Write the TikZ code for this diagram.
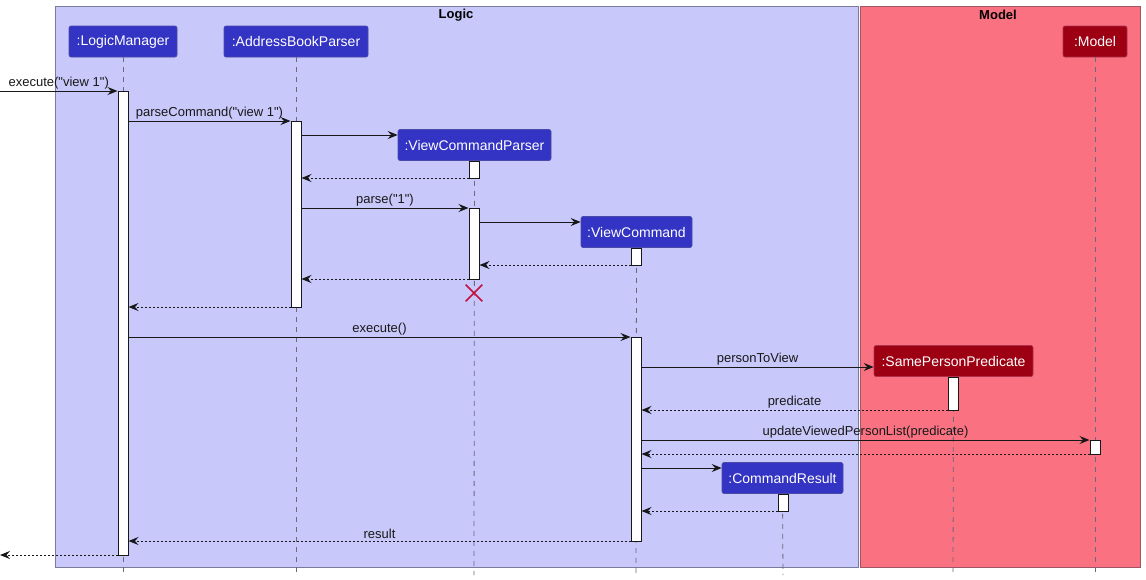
\documentclass[tikz,border=0pt]{standalone}
\usepackage{fontspec}
\setmainfont{Liberation Sans}[Ligatures=TeXOff]
\usetikzlibrary{arrows.meta,shapes.misc}
\definecolor{logicbg}{HTML}{C8C8FA}
\definecolor{logicbd}{HTML}{7A7A9A}
\definecolor{modelbg}{HTML}{FA7282}
\definecolor{modelbd}{HTML}{A05565}
\definecolor{partblue}{HTML}{3333C4}
\definecolor{partbluebd}{HTML}{4A4AA8}
\definecolor{partred}{HTML}{9D0012}
\definecolor{partredbd}{HTML}{B0304A}
\definecolor{lifegray}{HTML}{6A6A7A}
\definecolor{xred}{HTML}{C2123F}
\definecolor{ink}{HTML}{181818}
\tikzset{
  pblue/.style={draw=partbluebd, fill=partblue, text=white, rounded corners=2pt, inner sep=0pt, minimum height=31pt, font=\fontsize{14}{16}\selectfont, line width=0.6pt},
  pred/.style={pblue, draw=partredbd, fill=partred},
  act/.style={draw=ink, fill=white, line width=1pt, minimum width=10pt, inner sep=0pt},
  life/.style={draw=lifegray, line width=0.8pt, dash pattern=on 5pt off 5pt},
  msg/.style={draw=ink, line width=1pt, -{Stealth[length=10pt,width=8pt,inset=3.5pt]}},
  ret/.style={msg, dash pattern=on 2pt off 2pt},
  lbl/.style={font=\fontsize{13}{15}\selectfont, text=ink, inner sep=1.5pt, above},
  frametitle/.style={font=\bfseries\fontsize{13}{15}\selectfont, text=black, inner sep=0pt},
}
\begin{document}
\begin{tikzpicture}[x=1pt,y=-1pt]
\useasboundingbox (0,0) rectangle (1146,579);
% frames
\draw[fill=logicbg, draw=logicbd, line width=1pt] (55,6) rectangle (858,567);
\draw[fill=modelbg, draw=modelbd, line width=1pt] (860,6) rectangle (1140,567);
\node[frametitle] (tlogic) at (456,15) {Logic};
\node[frametitle] (tmodel) at (998,15) {Model};
% participants
\node[pblue, minimum width=108pt] (lm) at (123,41.5) {:LogicManager};
\node[pblue, minimum width=144pt] (abp) at (296,41.5) {:AddressBookParser};
\node[pblue, minimum width=153pt] (vcp) at (474.5,145) {:ViewCommandParser};
\node[pblue, minimum width=111pt] (vc) at (636.5,232) {:ViewCommand};
\node[pred, minimum width=159pt] (spp) at (953.5,361) {:SamePersonPredicate};
\node[pblue, minimum width=121pt] (cr) at (782.5,478) {:CommandResult};
\node[pred, minimum width=64pt] (mdl) at (1095,41.5) {:Model};
% lifeline ends
\coordinate (lmE) at (123,575);
\coordinate (abpE) at (296,575);
\coordinate (vcpE) at (474,575);
\coordinate (vcE) at (636,575);
\coordinate (sppE) at (953,575);
\coordinate (crE) at (783,575);
\coordinate (mdlE) at (1095,575);
\draw[life] (lm.south) -- (lmE);
\draw[life] (abp.south) -- (abpE);
\draw[life] (vcp.south) -- (vcpE);
\draw[life] (vc.south) -- (vcE);
\draw[life] (spp.south) -- (sppE);
\draw[life] (cr.south) -- (crE);
\draw[life] (mdl.south) -- (mdlE);
% activations
\node[act, minimum height=464pt] (lmA) at (123,323) {};
\node[act, minimum height=186pt] (abpA) at (296,214) {};
\node[act, minimum height=17pt] (vcpA1) at (474,169.5) {};
\node[act, minimum height=71pt] (vcpA2) at (474,243.5) {};
\node[act, minimum height=17pt] (vcA1) at (636,256.5) {};
\node[act, minimum height=204pt] (vcA2) at (636,439) {};
\node[act, minimum height=33pt] (sppA) at (953,393.5) {};
\node[act, minimum height=14pt] (mdlA) at (1095,447) {};
\node[act, minimum height=17pt] (crA) at (783,502.5) {};
% external ends
\coordinate (inL) at (0,91);
\coordinate (outL) at (0,555);
% messages
\draw[msg] (inL) -- (lmA.west |- inL) node[lbl, midway] {execute("view 1")};
\draw[msg] (lmA.east |- 0,121) -- (abpA.west |- 0,121) node[lbl, midway] {parseCommand("view 1")};
\draw[msg] (abpA.east |- 0,135) -- (vcp.west |- 0,135);
\draw[ret] (vcpA1.west |- 0,178) -- (abpA.east |- 0,178);
\draw[msg] (abpA.east |- 0,208) -- (vcpA2.west |- 0,208) node[lbl, midway] {parse("1")};
\draw[msg] (vcpA2.east |- 0,222) -- (vc.west |- 0,222);
\draw[ret] (vcA1.west |- 0,265) -- (vcpA2.east |- 0,265);
\draw[ret] (vcpA2.west |- 0,279) -- (abpA.east |- 0,279);
\draw[ret] (abpA.west |- 0,307) -- (lmA.east |- 0,307);
\node[cross out, draw=xred, line width=1.6pt, minimum size=15pt, inner sep=0pt] (vcpX) at (474,293) {};
\draw[msg] (lmA.east |- 0,337) -- (vcA2.west |- 0,337) node[lbl, midway] {execute()};
\draw[msg] (vcA2.east |- 0,367) -- (spp.west |- 0,367) node[lbl, midway] {personToView};
\draw[ret] (sppA.west |- 0,410) -- (vcA2.east |- 0,410) node[lbl, midway] {predicate};
\draw[msg] (vcA2.east |- 0,440) -- (mdlA.west |- 0,440) node[lbl, midway] {updateViewedPersonList(predicate)};
\draw[ret] (mdlA.west |- 0,454) -- (vcA2.east |- 0,454);
\draw[msg] (vcA2.east |- 0,468) -- (cr.west |- 0,468);
\draw[ret] (crA.west |- 0,511) -- (vcA2.east |- 0,511);
\draw[ret] (vcA2.west |- 0,541) -- (lmA.east |- 0,541) node[lbl, midway] {result};
\draw[ret] (lmA.west |- outL) -- (outL);
\end{tikzpicture}
\end{document}
